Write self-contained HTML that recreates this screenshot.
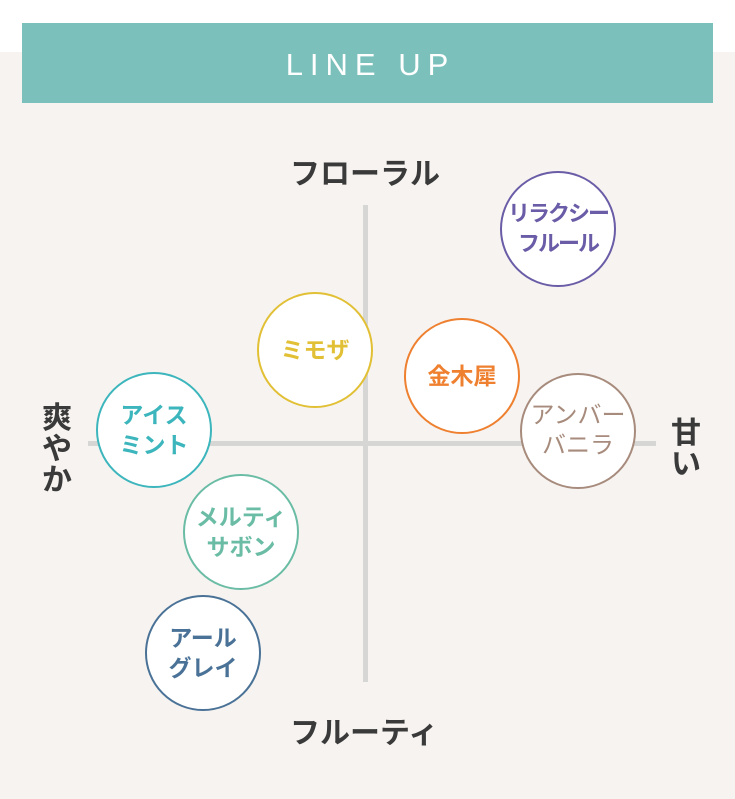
<!DOCTYPE html>
<html><head><meta charset="utf-8"><style>
body{margin:0;width:735px;height:799px;overflow:hidden;background:#f6f3f0;font-family:"Liberation Sans","Noto Sans CJK JP",sans-serif;position:relative}
.top{position:absolute;left:0;top:0;width:735px;height:52px;background:#fff}
.hdr{position:absolute;left:22px;top:23px;width:691px;height:80px;background:#7bc0bb;color:#fff;font-size:31px;letter-spacing:7px;text-align:center;line-height:84px;padding-left:6px;box-sizing:border-box}
.v{position:absolute;left:363px;top:205px;width:5px;height:477px;background:#d6d6d4}
.h{position:absolute;left:88px;top:441px;width:568px;height:5px;background:#d6d6d4}
.lab{position:absolute;font-size:30px;font-weight:bold;color:#3a3a3a;white-space:nowrap}
.vt{position:absolute;font-size:30px;font-weight:bold;color:#3a3a3a;width:34px;text-align:center;line-height:31px}
.c{position:absolute;width:112px;height:112px;border-radius:50%;border:2px solid;background:#fff;display:flex;align-items:center;justify-content:center;text-align:center;font-weight:bold;font-size:23px;line-height:30px}
</style></head><body>
<div class="top"></div>
<div class="hdr">LINE UP</div>
<div class="v"></div><div class="h"></div>
<div class="lab" style="left:290px;top:149px">フローラル</div>
<div class="lab" style="left:290px;top:708px">フルーティ</div>
<div class="vt" style="left:40px;top:403px">爽<br>や<br>か</div>
<div class="vt" style="left:669px;top:418px">甘<br>い</div>
<div class="c" style="left:500px;top:171px;color:#6a5ca6;border-color:#6a5ca6;font-size:22px;letter-spacing:-2px">リラクシー<br>フルール</div>
<div class="c" style="left:257px;top:292px;color:#e2c035;border-color:#e2c035">ミモザ</div>
<div class="c" style="left:404px;top:318px;color:#ee8030;border-color:#ee8030">金木犀</div>
<div class="c" style="left:520px;top:373px;color:#a78b7c;border-color:#a78b7c;font-weight:normal;font-size:24px">アンバー<br>バニラ</div>
<div class="c" style="left:96px;top:372px;color:#3cb6bc;border-color:#3cb6bc">アイス<br>ミント</div>
<div class="c" style="left:183px;top:474px;color:#6abca5;border-color:#6abca5">メルティ<br>サボン</div>
<div class="c" style="left:145px;top:595px;color:#4a7297;border-color:#4a7297">アール<br>グレイ</div>
</body></html>
